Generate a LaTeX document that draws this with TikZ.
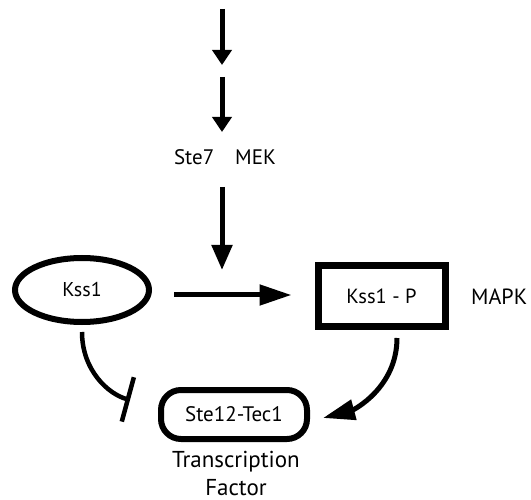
\documentclass[tikz,border=0pt]{standalone}
\usepackage{fontspec}
\setmainfont{PT Sans}
\usetikzlibrary{arrows.meta,shapes.geometric}
\begin{document}
\begin{tikzpicture}[x=1pt,y=-1pt,
  arrbase/.style={line width=5pt},
  arrshort/.style={arrbase,-{Triangle[length=15pt,width=19pt]}},
  arrlong/.style={arrbase,-{Triangle[length=25pt,width=20pt]}},
  arrxl/.style={arrbase,-{Triangle[length=32pt,width=20pt]}},
  inhib/.style={line width=4.5pt,-{Bar[width=46pt,line width=4.5pt]}},
  lbl/.style={font=\fontsize{20}{24}\selectfont, inner sep=0pt},
  ]
\useasboundingbox (0,0) rectangle (531,500);
% nodes
\node[lbl, font=\fontsize{21}{24}\selectfont] (mek) at (225,157) {Ste7\quad MEK};
\node[lbl, draw, ellipse, line width=6pt, minimum width=134pt, minimum height=64pt] (kss1) at (82,290) {Kss1};
\node[lbl, font=\fontsize{20.5}{24}\selectfont, draw, rectangle, line width=7pt, minimum width=127pt, minimum height=61pt] (kssp) at (381.5,296.5) {Kss1 - P};
\node[lbl, font=\fontsize{22}{24}\selectfont, anchor=west] (mapk) at (471,297) {MAPK};
\node[lbl, font=\fontsize{21}{24}\selectfont, draw, rectangle, rounded corners=20pt, line width=6pt, minimum width=146pt, minimum height=49pt] (ste12) at (234,414.5) {Ste12-Tec1};
\node[lbl, align=center, font=\fontsize{23}{28}\selectfont] (tf) at (236,473) {Transcription\\Factor};
% free ends
\coordinate (s1) at (222,9);
\coordinate (e1) at (222,65);
\coordinate (s2) at (222,77);
\coordinate (e2) at (222,132);
\coordinate (e3) at (222,270);
% connectors
\draw[arrshort] (s1) -- (e1);
\draw[arrshort] (s2) -- (e2);
\draw[arrlong] ([shift={(-3,22)}]mek.south) -- (e3);
\draw[arrxl] ([shift={(22,5)}]kss1.east) -- ([shift={(-23,-1.5)}]kssp.west);
\draw[inhib] ([yshift=-7pt]kss1.south) .. controls +(0,38) and +(-22,-6) .. ([shift={(-28,-14.5)}]ste12.west);
\draw[arrxl] ([shift={(15.5,7.5)}]kssp.south) .. controls +(0,50) and +(30,-8) .. ([shift={(13,3.5)}]ste12.east);
\end{tikzpicture}
\end{document}
